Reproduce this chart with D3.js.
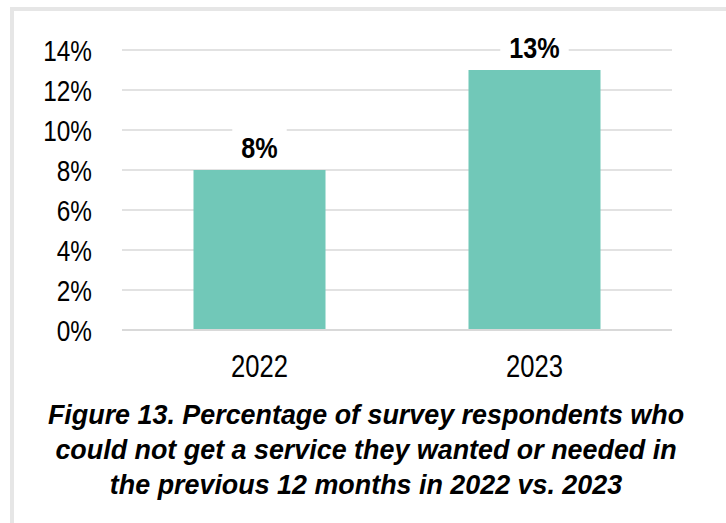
<!DOCTYPE html>
<html>
<head>
<meta charset="utf-8">
<script src="https://cdn.jsdelivr.net/npm/d3@7"></script>
<style>
  html, body { margin: 0; padding: 0; background: #fff; }
  svg { display: block; }
</style>
</head>
<body>
<svg id="chart" width="726" height="523"></svg>
<script>
// Survey: share of respondents who could not get a service they wanted or needed
const years = ["2022", "2023"];
const percentValues = [8, 13];
const yTicks = [0, 2, 4, 6, 8, 10, 12, 14];
const captionLines = [
  "Figure 13. Percentage of survey respondents who",
  "could not get a service they wanted or needed in",
  "the previous 12 months in 2022 vs. 2023"
];

const sans = "'Liberation Sans', Arial, sans-serif";
// horizontal squeeze to give the axis and value text a condensed look
const condense = 0.84;
const svg = d3.select("#chart");

// outer frame (open on the right and bottom edges of the canvas)
svg.append("rect")
  .attr("x", 12).attr("y", 9)
  .attr("width", 730).attr("height", 530)
  .attr("fill", "none")
  .attr("stroke", "#e6e6e6")
  .attr("stroke-width", 4);

const x = d3.scaleBand()
  .domain(years)
  .range([122, 672])
  .paddingInner(0.52)
  .paddingOuter(0.26);

const y = d3.scaleLinear()
  .domain([0, 14])
  .range([330, 50]);

// gridlines
svg.append("g")
  .selectAll("line")
  .data(yTicks)
  .join("line")
  .attr("x1", 122).attr("x2", 672)
  .attr("y1", d => y(d)).attr("y2", d => y(d))
  .attr("stroke", "#d9d9d9")
  .attr("stroke-width", 1.5);

// y axis labels
const yAxis = d3.axisLeft(y)
  .tickValues(yTicks)
  .tickFormat(d => d + "%")
  .tickSize(0)
  .tickPadding(0);
const yg = svg.append("g")
  .attr("transform", "translate(92,0)")
  .call(yAxis);
yg.select(".domain").remove();
yg.selectAll("text")
  .attr("font-family", sans)
  .attr("font-size", 29)
  .attr("dy", "0.36em")
  .attr("transform", `scale(${condense},1)`)
  .attr("fill", "#000");

// bars
svg.append("g")
  .selectAll("rect")
  .data(percentValues)
  .join("rect")
  .attr("x", (d, i) => x(years[i]))
  .attr("y", d => y(d))
  .attr("width", x.bandwidth())
  .attr("height", d => y(0) - y(d))
  .attr("fill", "#71c8b8");

// baseline
svg.append("line")
  .attr("x1", 122).attr("x2", 672)
  .attr("y1", y(0)).attr("y2", y(0))
  .attr("stroke", "#d9d9d9")
  .attr("stroke-width", 2);

// x axis labels
const xAxis = d3.axisBottom(x).tickSize(0).tickPadding(0);
const xg = svg.append("g")
  .attr("transform", `translate(0,${y(0) + 24})`)
  .call(xAxis);
xg.select(".domain").remove();
xg.selectAll("text")
  .attr("font-family", sans)
  .attr("font-size", 32)
  .attr("transform", "scale(0.8,1)")
  .attr("fill", "#000");

// value labels with white backing
const labels = svg.append("g")
  .selectAll("g")
  .data(percentValues)
  .join("g")
  .attr("transform", (d, i) => `translate(${x(years[i]) + x.bandwidth() / 2},${y(d) - 12})`);
labels.append("text")
  .attr("text-anchor", "middle")
  .attr("font-family", sans)
  .attr("font-weight", "bold")
  .attr("font-size", 30)
  .attr("transform", `scale(${condense},1)`)
  .attr("fill", "#000")
  .text(d => d + "%");
labels.each(function () {
  const g = d3.select(this);
  const bb = g.select("text").node().getBBox();
  const w = bb.width * condense;
  g.insert("rect", "text")
    .attr("x", -w / 2 - 9)
    .attr("y", bb.y - 2)
    .attr("width", w + 18)
    .attr("height", bb.height + 4)
    .attr("fill", "#fff");
});

// caption
svg.append("g")
  .selectAll("g")
  .data(captionLines)
  .join("g")
  .attr("transform", (d, i) => `translate(366,${424 + i * 35})`)
  .append("text")
  .attr("text-anchor", "middle")
  .attr("font-family", sans)
  .attr("font-weight", "bold")
  .attr("font-style", "italic")
  .attr("font-size", 28)
  .attr("transform", "scale(0.96,1)")
  .attr("fill", "#000")
  .text(d => d);
</script>
</body>
</html>
